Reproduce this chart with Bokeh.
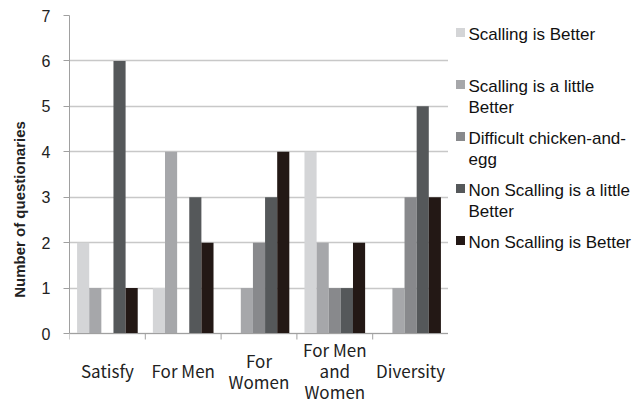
from bokeh.plotting import figure
from bokeh.layouts import row
from bokeh.models import ColumnDataSource, Range1d, FixedTicker
from bokeh.transform import dodge
from bokeh.core.properties import value
from bokeh.embed import file_html
from bokeh.resources import INLINE

# ---- data ----
categories = ["Satisfy", "For Men", "For Women", "For Men and Women", "Diversity"]
category_labels = ["Satisfy", "For Men", "For\nWomen", "For Men\nand\nWomen", "Diversity"]
series = ["Scalling is Better", "Scalling is a little Better", "Difficult chicken-and-egg",
          "Non Scalling is a little Better", "Non Scalling is Better"]
legend_labels = ["Scalling is Better", "Scalling is a little\nBetter", "Difficult chicken-and-\negg",
                 "Non Scalling is a little\nBetter", "Non Scalling is Better"]
scalling_better = [2, 1, 0, 4, 0]
scalling_little_better = [1, 4, 1, 2, 1]
difficult = [0, 0, 2, 1, 3]
non_scalling_little_better = [6, 3, 3, 1, 5]
non_scalling_better = [1, 2, 4, 2, 3]
values_by_series = [scalling_better, scalling_little_better, difficult,
                    non_scalling_little_better, non_scalling_better]
colors = ["#d4d5d7", "#a6a7aa", "#88898c", "#55585a", "#231815"]
y_ticks = [0, 1, 2, 3, 4, 5, 6, 7]

# ---- layout constants (pixels) ----
W_MAIN, H = 448, 403
TOP, AXIS_Y = 15, 333          # canvas y of value 7 and of value 0
Y_MAX = 7
px_per_unit = (AXIS_Y - TOP) / Y_MAX
y_bottom = -(H - AXIS_Y) / px_per_unit   # frame extends down to the canvas bottom

# ---- main chart ----
p = figure(width=W_MAIN, height=H, x_range=Range1d(0, len(categories)),
           y_range=Range1d(y_bottom, Y_MAX),
           output_backend="svg", toolbar_location=None,
           min_border_left=69, min_border_right=0, min_border_top=TOP, min_border_bottom=0)
p.outline_line_color = None
p.background_fill_color = "white"
p.border_fill_color = "white"

centers = [i + 0.5 for i in range(len(categories))]
data = {"x": centers, "label": category_labels}
for k, vals in enumerate(values_by_series):
    data["s%d" % k] = vals
src = ColumnDataSource(data)

bw = 0.16
offsets = [-0.32, -0.16, 0.0, 0.16, 0.32]
for k in range(len(series)):
    p.vbar(x=dodge("x", offsets[k]), top="s%d" % k, width=bw, source=src,
           fill_color=colors[k], line_color=None)

# grid
p.xgrid.visible = False
p.ygrid.ticker = FixedTicker(ticks=y_ticks)
p.ygrid.grid_line_color = "#c8c8c8"
p.ygrid.grid_line_width = 1.3

# y axis
p.yaxis.ticker = FixedTicker(ticks=y_ticks)
p.yaxis.bounds = (0, Y_MAX)
p.yaxis.axis_line_color = "#a0a0a0"
p.yaxis.major_tick_line_color = "#a0a0a0"
p.yaxis.major_tick_out = 6
p.yaxis.major_tick_in = 0
p.yaxis.minor_tick_line_color = None
p.yaxis.major_label_standoff = 13
p.yaxis.major_label_text_font = "Liberation Sans"
p.yaxis.major_label_text_font_size = "16px"
p.yaxis.major_label_text_color = "#222222"
p.yaxis.axis_label = "Number of questionaries"
p.yaxis.axis_label_text_font = "Liberation Sans"
p.yaxis.axis_label_text_font_style = "bold"
p.yaxis.axis_label_text_font_size = "15px"
p.yaxis.axis_label_text_color = "#222222"
p.yaxis.axis_label_standoff = 11

# x axis drawn inside the extended frame: baseline is the 0 grid line
p.xaxis.visible = False
boundaries = list(range(len(categories) + 1))
tick_len = 6 / px_per_unit
p.segment(x0=boundaries, y0=[0] * len(boundaries), x1=boundaries, y1=[-tick_len] * len(boundaries),
          line_color="#a0a0a0", line_width=1)
p.segment(x0=[0], y0=[0], x1=[len(categories)], y1=[0], line_color="#a0a0a0", line_width=1)

label_center = -(370 - AXIS_Y) / px_per_unit
p.text(x="x", y=label_center, text="label", source=src,
       text_align="center", text_baseline="middle",
       text_font=value("Noto Sans CJK JP"), text_font_size="17px",
       text_color="#222222", text_line_height=0.84)

# ---- legend panel (coordinates = canvas pixels; same borders as main chart) ----
lg = figure(width=641 - W_MAIN, height=H, x_range=Range1d(0, 641 - W_MAIN), y_range=Range1d(H, TOP),
            output_backend="svg", toolbar_location=None,
            min_border_left=0, min_border_right=0, min_border_top=TOP, min_border_bottom=0,
            x_axis_type=None, y_axis_type=None)
lg.outline_line_color = None
lg.xgrid.visible = False
lg.ygrid.visible = False

item_top = 27
item_step = 52
lsrc = ColumnDataSource({
    "sx": [12] * len(series),
    "sy": [item_top + 5 + i * item_step for i in range(len(series))],
    "tx": [20] * len(series),
    "ty": [item_top - 3 + i * item_step for i in range(len(series))],
    "color": colors,
    "label": legend_labels,
})
lg.rect(x="sx", y="sy", width=9, height=9, fill_color="color", line_color=None, source=lsrc)
lg.text(x="tx", y="ty", text="label", source=lsrc, text_baseline="top", text_align="left",
        text_font=value("Liberation Sans"), text_font_size="17px", text_color="#111111",
        text_line_height=1.15)

layout = row(p, lg)
open("out.html", "w").write(file_html(layout, INLINE))
